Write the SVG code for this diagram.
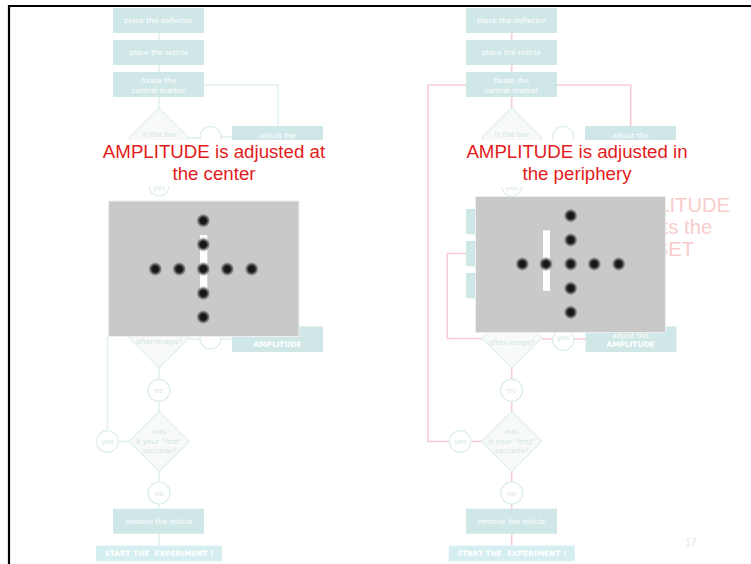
<svg xmlns="http://www.w3.org/2000/svg" width="751" height="564" viewBox="0 0 751 564">
<style>
.box{fill:#cfe7e7}
.start{fill:#d5eef0}
.bt{font-family:"DejaVu Sans",sans-serif;font-size:7.3px;fill:#ffffff;text-anchor:middle}
.bb{font-family:"DejaVu Sans",sans-serif;font-size:7.4px;font-weight:bold;fill:#ffffff;text-anchor:middle}
.dia{fill:#f8fafa;stroke:#e2efef;stroke-width:1.2}
.cir{fill:#ffffff;stroke:#dcecec;stroke-width:1.2}
.dt{font-family:"DejaVu Sans",sans-serif;font-size:7.3px;fill:#d3e6e6;text-anchor:middle}
.lt{fill:none;stroke:#e3f0f0;stroke-width:1.6}
.lp{fill:none;stroke:#f6cdd6;stroke-width:1.6}
.title{font-family:"Liberation Sans",Arial,sans-serif;font-size:18.7px;fill:#e31b1b;text-anchor:middle}
.faded{font-family:"Liberation Sans",Arial,sans-serif;font-size:20.2px;fill:#f9cccc}
.img{fill:#c9c9c9;stroke:#eeeeee;stroke-width:1}
</style>
<defs>
<radialGradient id="dot">
<stop offset="0" stop-color="#111111"/>
<stop offset="0.45" stop-color="#1e1e1e"/>
<stop offset="0.75" stop-color="#5a5a5a" stop-opacity="0.6"/>
<stop offset="1" stop-color="#c9c9c9" stop-opacity="0"/>
</radialGradient>
</defs>
<rect x="0" y="0" width="751" height="564" fill="#ffffff"/>
<path d="M9,564 V6 H751" fill="none" stroke="#000000" stroke-width="2.2"/>

<g id="connectors">
<g id="left-connectors">
<path class="lt" d="M159,33 V40 M159,65 V72 M159,97 V108 M159,168 V176 M189,138 H200 M221,137 H232"/>
<path class="lt" d="M204,85 H278 V126"/>
<path class="lt" d="M159,368 V379.3 M159,401.3 V411.5 M159,471.5 V482 M159,504 V508.7 M159,533.7 V545.7"/>
<path class="lt" d="M189,339 H200 M221,339 H232"/>
<path class="lt" d="M129,441.5 H118.3 M107.4,430.7 V337"/>
</g>
<g id="right-connectors">
<path class="lp" d="M511.7,33 V40 M511.7,65 V72 M511.7,97 V108 M511.7,168 V176"/>
<path class="lp" d="M557,85 H630.7 V126"/>
<path class="lp" d="M466,85 H428 V441.5 H449"/>
<path class="lp" d="M471,441.5 H481.7"/>
<path class="lp" d="M481.7,338.5 H447.3 V253.5 H466"/>
<path class="lp" d="M541.7,339 H552.7 M574,339 H585.7"/>
<path class="lp" d="M511.7,368 V379.3 M511.7,401.3 V411.5 M511.7,471.5 V482 M511.7,504 V508.7 M511.7,533.7 V545.7"/>
</g>
</g>

<g id="L-deflector"><rect class="box" x="113" y="8" width="91" height="25"/><text class="bt" x="158.7" y="23.3">place the deflector</text></g>
<g id="L-reticle"><rect class="box" x="113" y="40" width="91" height="25"/><text class="bt" x="158.7" y="55.3">place the reticle</text></g>
<g id="L-fixate"><rect class="box" x="113" y="72" width="91" height="25"/><text class="bt" x="158.7" y="83">fixate the</text><text class="bt" x="158.7" y="92.5">central marker</text></g>
<g id="L-bar"><polygon class="dia" points="159,108 189,138 159,168 129,138"/><text class="dt" x="159" y="136.5">is the bar</text></g>
<g id="L-circle1"><circle class="cir" cx="210.5" cy="137" r="10.5"/></g>
<g id="L-adjust1"><rect class="box" x="232" y="126" width="91" height="26"/><text class="bt" x="277.5" y="137.5">adjust the</text></g>
<g id="L-yes1"><circle class="cir" cx="159" cy="186" r="10"/><text class="dt" x="159" y="190">yes</text></g>
<g id="L-after"><polygon class="dia" points="159,308 189,338 159,368 129,338"/><text class="dt" x="159" y="344.3">after-image?</text></g>
<g id="L-circle2"><circle class="cir" cx="210.5" cy="338.5" r="10.5"/></g>
<g id="L-adjust2"><rect class="box" x="232" y="326.5" width="91" height="25.5"/><text class="bb" x="277.5" y="346.8">AMPLITUDE</text></g>
<g id="L-no1"><circle class="cir" cx="159" cy="390.3" r="11"/><text class="dt" x="159" y="393">no</text></g>
<g id="L-first"><polygon class="dia" points="159,411.5 189,441.5 159,471.5 129,441.5"/><text class="dt" x="159" y="434.3">was</text><text class="dt" x="159" y="443.6">it your "first"</text><text class="dt" x="159" y="452.9">saccade?</text></g>
<g id="L-yes2"><circle class="cir" cx="107.5" cy="441.5" r="10.8"/><text class="dt" x="107.5" y="444.2">yes</text></g>
<g id="L-no2"><circle class="cir" cx="159" cy="493" r="11"/><text class="dt" x="159" y="495.7">no</text></g>
<g id="L-remove"><rect class="box" x="113" y="508.7" width="91" height="25"/><text class="bt" x="158.7" y="523.8">remove the reticle</text></g>
<g id="L-start"><rect class="start" x="96" y="545.7" width="126" height="15.5"/><text class="bb" x="159" y="556" xml:space="preserve">START THE  EXPERIMENT !</text></g>

<g id="R-deflector"><rect class="box" x="466" y="8" width="91" height="25"/><text class="bt" x="511.4" y="23.3">place the deflector</text></g>
<g id="R-reticle"><rect class="box" x="466" y="40" width="91" height="25"/><text class="bt" x="511.4" y="55.3">place the reticle</text></g>
<g id="R-fixate"><rect class="box" x="466" y="72" width="91" height="25"/><text class="bt" x="511.4" y="83">fixate the</text><text class="bt" x="511.4" y="92.5">central marker</text></g>
<g id="R-bar"><polygon class="dia" points="511.7,108 541.7,138 511.7,168 481.7,138"/><text class="dt" x="511.7" y="136.5">is the bar</text></g>
<g id="R-circle1"><circle class="cir" cx="563.2" cy="137" r="10.5"/></g>
<g id="R-adjust1"><rect class="box" x="585" y="126" width="91" height="26"/><text class="bt" x="630.5" y="137.5">adjust the</text></g>
<g id="R-yes1"><circle class="cir" cx="511.7" cy="186" r="10"/><text class="dt" x="511.7" y="190">yes</text></g>
<g id="R-box1"><rect class="box" x="466" y="209" width="91" height="25.3"/></g>
<g id="R-box2"><rect class="box" x="466" y="241" width="91" height="25.3"/></g>
<g id="R-box3"><rect class="box" x="466" y="273" width="91" height="25.3"/></g>
<g id="R-after"><polygon class="dia" points="511.7,308 541.7,338 511.7,368 481.7,338"/><text class="dt" x="511.7" y="345.3">after-image?</text></g>
<g id="R-yes-amp"><circle class="cir" cx="563.3" cy="340" r="10.5"/><text class="dt" x="563.3" y="339.8">yes</text></g>
<g id="R-adjust2"><rect class="box" x="585.5" y="326.5" width="91" height="25.5"/><text class="bt" x="630.5" y="337.5">adjust the</text><text class="bb" x="630.5" y="346.8">AMPLITUDE</text></g>
<g id="R-no1"><circle class="cir" cx="511.7" cy="390.3" r="11"/><text class="dt" x="511.7" y="393">no</text></g>
<g id="R-first"><polygon class="dia" points="511.7,411.5 541.7,441.5 511.7,471.5 481.7,441.5"/><text class="dt" x="511.7" y="434.3">was</text><text class="dt" x="511.7" y="443.6">it your "first"</text><text class="dt" x="511.7" y="452.9">saccade?</text></g>
<g id="R-yes2"><circle class="cir" cx="460.2" cy="441.5" r="10.8"/><text class="dt" x="460.2" y="444.2">yes</text></g>
<g id="R-no2"><circle class="cir" cx="511.7" cy="493" r="11"/><text class="dt" x="511.7" y="495.7">no</text></g>
<g id="R-remove"><rect class="box" x="466" y="508.7" width="91" height="25"/><text class="bt" x="511.4" y="523.8">remove the reticle</text></g>
<g id="R-start"><rect class="start" x="448.7" y="545.7" width="126" height="15.5"/><text class="bb" x="511.7" y="556" xml:space="preserve">START THE  EXPERIMENT !</text></g>

<g id="faded-note"><text class="faded" x="614.5" y="211.7">AMPLITUDE</text><text class="faded" x="614.5" y="233.5">adjusts the</text><text class="faded" x="614.5" y="255.8">OFFSET</text></g>

<g id="title-left"><rect x="100" y="140" width="232" height="46.5" fill="#ffffff"/><text class="title" x="214" y="158.3">AMPLITUDE is adjusted at</text><text class="title" x="214" y="180">the center</text></g>
<g id="title-right"><rect x="462" y="140" width="226" height="47" fill="#ffffff"/><text class="title" x="577" y="158.3">AMPLITUDE is adjusted in</text><text class="title" x="577" y="180">the periphery</text></g>

<g id="image-left">
<rect class="img" x="108.5" y="201" width="190.5" height="135.5"/>
<rect x="200" y="235" width="7.3" height="61.7" fill="#ffffff"/>
<g fill="url(#dot)">
<circle cx="203.3" cy="220.7" r="7.5"/><circle cx="203.3" cy="244.5" r="7.5"/><circle cx="203.3" cy="269" r="7.5"/><circle cx="203.3" cy="293.3" r="7.5"/><circle cx="203.3" cy="317" r="7.5"/>
<circle cx="155.3" cy="269" r="7.5"/><circle cx="179.3" cy="269" r="7.5"/><circle cx="227.3" cy="269" r="7.5"/><circle cx="251.7" cy="269" r="7.5"/>
</g>
</g>
<g id="image-right">
<rect class="img" x="475.5" y="196.5" width="190" height="136"/>
<rect x="543" y="230.3" width="7" height="60.7" fill="#ffffff"/>
<g fill="url(#dot)">
<circle cx="570.7" cy="215.7" r="7.5"/><circle cx="570.7" cy="240" r="7.5"/><circle cx="570.7" cy="264" r="7.5"/><circle cx="570.7" cy="288.3" r="7.5"/><circle cx="570.7" cy="312.3" r="7.5"/>
<circle cx="522.3" cy="264" r="7.5"/><circle cx="546" cy="264" r="7.5"/><circle cx="594.3" cy="264" r="7.5"/><circle cx="618.7" cy="264" r="7.5"/>
</g>
</g>

<text x="690.8" y="546" font-family="Liberation Sans, Arial, sans-serif" font-size="10.5" fill="#e6e6e6" text-anchor="middle">17</text>
</svg>
